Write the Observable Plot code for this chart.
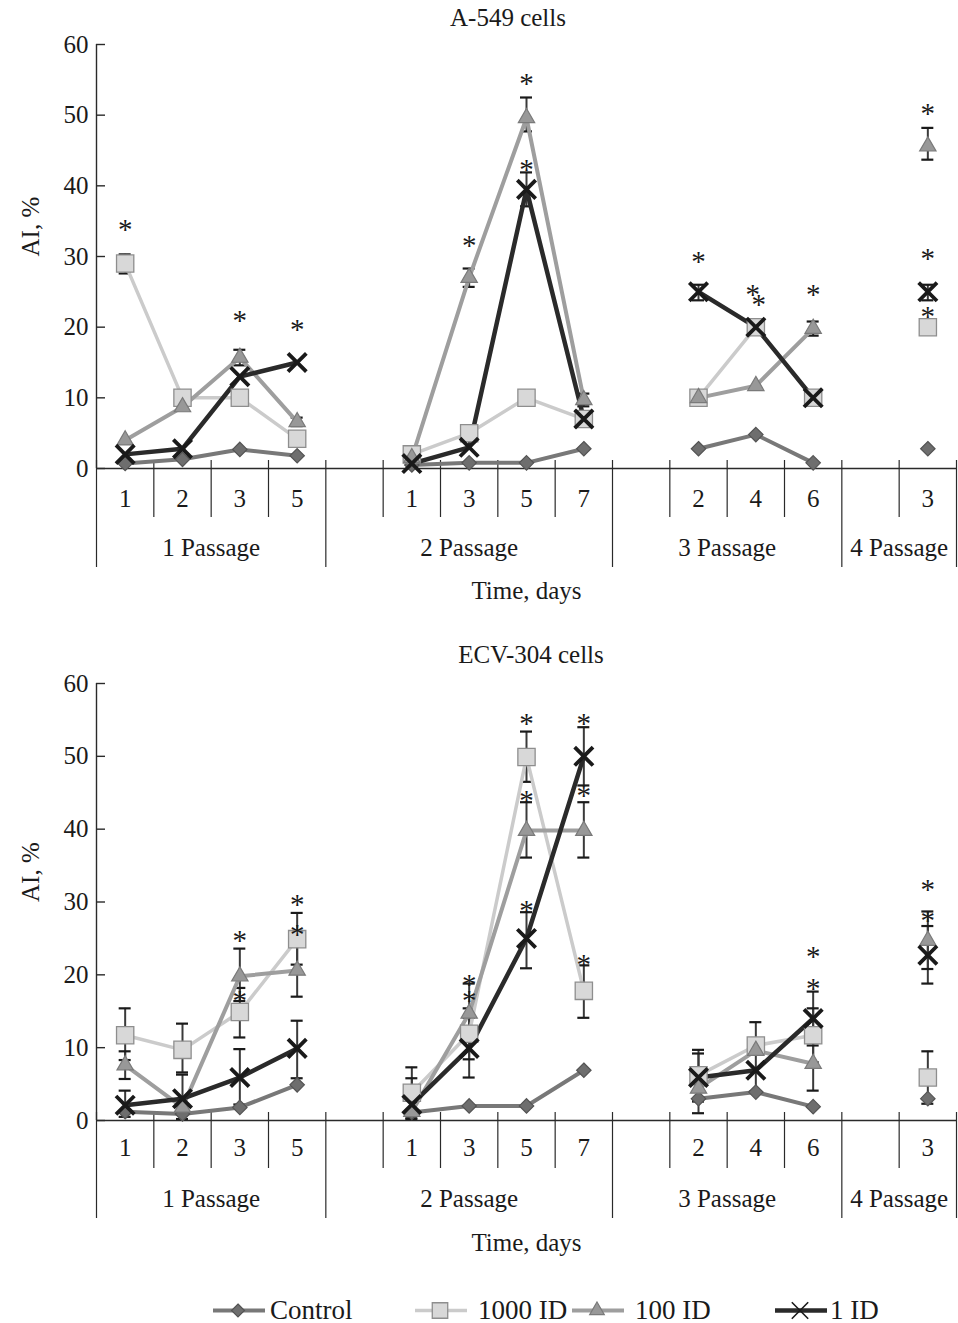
<!DOCTYPE html>
<html>
<head>
<meta charset="utf-8">
<script src="https://cdn.jsdelivr.net/npm/d3@7"></script>
<script src="https://cdn.jsdelivr.net/npm/@observablehq/plot@0.6"></script>
<style>
  html, body { margin: 0; padding: 0; background: #fff; }
  #page { position: relative; width: 958px; height: 1323px; overflow: hidden; font-family: "Liberation Serif", "DejaVu Serif", serif; color: #1a1a1a; }
  .abs { position: absolute; }
  .title { font-size: 25px; white-space: nowrap; transform: translate(-50%, -50%); }
  .leg { font-size: 27px; white-space: nowrap; display: flex; align-items: center; transform: translateY(-50%); }
</style>
</head>
<body>
<div id="page"></div>
<script>
// ---------------- data ----------------
const yTicks = [0, 10, 20, 30, 40, 50, 60];
const passages = ["1 Passage", "2 Passage", "3 Passage", "4 Passage"];
const passageDays = [[1, 2, 3, 5], [1, 3, 5, 7], [2, 4, 6], [3]];
const leadingGap = [0, 1, 1, 1];
const seriesNames = ["Control", "1000 ID", "100 ID", "1 ID"];

// A-549 cells: values per passage
const a549Control = [[0.7, 1.3, 2.7, 1.8], [0.5, 0.8, 0.8, 2.8], [2.8, 4.8, 0.8], [2.8]];
const a549Id1000  = [[29, 10, 10, 4.2], [2, 5, 10, 7], [10, 20, 10], [20]];
const a549Id100   = [[4, 8.7, 15.7, 6.6], [1.5, 27, 49.6, 9.7], [10, 11.7, 19.8], [45.6]];
const a549Id1     = [[2, 2.8, 13, 15], [0.7, 3, 39.5, 7], [25, 20, 10], [25]];
// error bars: [series, passage index, day, low, high]
const a549Errors = [
  ["1000 ID", 0, 1, 27.6, 30.3],
  ["100 ID", 0, 3, 14.6, 16.8],
  ["100 ID", 0, 5, 6.0, 7.2],
  ["100 ID", 1, 3, 25.7, 28.3],
  ["100 ID", 1, 5, 47.7, 52.5],
  ["1 ID", 1, 5, 37.1, 41.9],
  ["100 ID", 1, 7, 8.8, 10.6],
  ["1 ID", 2, 2, 23.8, 26.0],
  ["100 ID", 2, 6, 18.8, 20.8],
  ["100 ID", 3, 3, 43.7, 48.2],
  ["1 ID", 3, 3, 23.8, 26.0]
];
// significance marks: [passage index, day, value]
const a549Stars = [
  [0, 1, 34.8], [0, 3, 21.9], [0, 5, 20.6],
  [1, 3, 32.5], [1, 5, 55.4], [1, 5, 43.3],
  [2, 2, 30.3], [2, 4, 25.6], [2, 4, 24.2], [2, 6, 25.6],
  [3, 3, 51.2], [3, 3, 30.7], [3, 3, 22.5]
];

// ECV-304 cells
const ecvControl = [[1.2, 0.9, 1.8, 4.9], [1.1, 2, 2, 6.9], [3, 3.9, 1.9], [3]];
const ecvId1000  = [[11.7, 9.7, 14.9, 24.9], [3.8, 11.9, 49.9, 17.8], [6.2, 10.3, 11.7], [5.9]];
const ecvId100   = [[7.6, 1.8, 19.8, 20.6], [1.2, 14.7, 39.8, 39.8], [4.4, 9.6, 7.8], [24.7]];
const ecvId1     = [[2.1, 3, 5.9, 9.9], [2.2, 9.9, 25, 50], [5.9, 6.9, 14], [22.7]];
const ecvErrors = [
  ["1000 ID", 0, 1, 8.3, 15.4],
  ["100 ID", 0, 1, 5.7, 9.5],
  ["1 ID", 0, 1, 0.5, 4.1],
  ["1000 ID", 0, 2, 6.6, 13.3],
  ["1 ID", 0, 2, 0.2, 6.3],
  ["100 ID", 0, 3, 16.4, 23.6],
  ["1000 ID", 0, 3, 11.4, 18.2],
  ["1 ID", 0, 3, 2.2, 9.8],
  ["1000 ID", 0, 5, 21.4, 28.5],
  ["100 ID", 0, 5, 17.0, 24.0],
  ["1 ID", 0, 5, 5.8, 13.7],
  ["1000 ID", 1, 1, 0.3, 7.3],
  ["1 ID", 1, 1, 0.2, 5.8],
  ["100 ID", 1, 3, 10.8, 18.8],
  ["1000 ID", 1, 3, 8.4, 15.4],
  ["1 ID", 1, 3, 5.9, 14.1],
  ["1000 ID", 1, 5, 46.5, 53.4],
  ["100 ID", 1, 5, 36.1, 43.7],
  ["1 ID", 1, 5, 20.9, 28.6],
  ["1 ID", 1, 7, 46.0, 54.0],
  ["100 ID", 1, 7, 36.1, 43.7],
  ["1000 ID", 1, 7, 14.1, 21.3],
  ["1000 ID", 2, 2, 2.7, 9.7],
  ["1 ID", 2, 2, 2.6, 9.2],
  ["Control", 2, 2, 1.0, 5.0],
  ["1 ID", 2, 4, 4.0, 13.5],
  ["1 ID", 2, 6, 10.3, 17.7],
  ["1000 ID", 2, 6, 8.0, 15.4],
  ["100 ID", 2, 6, 4.1, 11.5],
  ["100 ID", 3, 3, 20.8, 28.7],
  ["1 ID", 3, 3, 18.8, 26.7],
  ["1000 ID", 3, 3, 2.3, 9.5]
];
const ecvStars = [
  [0, 3, 25.7], [0, 3, 17.4], [0, 5, 30.6], [0, 5, 26.5],
  [1, 3, 19.6], [1, 3, 17.4],
  [1, 5, 55.4], [1, 5, 44.9], [1, 5, 29.8],
  [1, 7, 55.4], [1, 7, 45.6], [1, 7, 22.4],
  [2, 6, 23.5], [2, 6, 19.0],
  [3, 3, 32.6], [3, 3, 28.4]
];

// ---------------- styles ----------------
const seriesStyle = {
  "Control": {symbol: "diamond2", r: 6.5, fill: "#6e6e6e", stroke: "#545454", sw: 1.2, line: "#787878", lw: 4},
  "1000 ID": {symbol: "square2", r: 11, fill: "#d8d8d8", stroke: "#8e8e8e", sw: 1.3, line: "#cbcbcb", lw: 3.5},
  "100 ID":  {symbol: "triangle2", r: 7.8, fill: "#989898", stroke: "#7a7a7a", sw: 1.2, line: "#9e9e9e", lw: 4},
  "1 ID":    {symbol: "times", r: 8.4, fill: "none", stroke: "#1a1a1a", sw: 3.8, line: "#2a2a2a", lw: 4.5}
};
const symbolFns = {"diamond2": d3.symbolDiamond2, "square2": d3.symbolSquare2, "triangle2": d3.symbolTriangle2, "times": d3.symbolTimes};

// ---------------- structure ----------------
const slotCounts = passageDays.map((d, p) => d.length + leadingGap[p]);
const slotStart = [0];
slotCounts.forEach((c, i) => slotStart.push(slotStart[i] + c));
const totalSlots = slotStart[slotStart.length - 1];
const center = (p, day) => slotStart[p] + leadingGap[p] + passageDays[p].indexOf(day) + 0.5;

const passageBounds = slotStart.slice();
const shortBounds = [];
for (let s = 1; s < totalSlots; s++) if (!passageBounds.includes(s)) shortBounds.push(s);
const dayTicks = [];
passageDays.forEach((days, p) => days.forEach(day => dayTicks.push({x: center(p, day), label: String(day)})));
const passageTicks = passages.map((name, p) => ({x: (slotStart[p] + slotStart[p + 1]) / 2, label: name}));

function rowsFor(valuesBySeries) {
  const rows = [];
  seriesNames.forEach((s, k) => {
    valuesBySeries[k].forEach((vals, p) => vals.forEach((v, j) => {
      rows.push({series: s, passage: p, x: center(p, passageDays[p][j]), y: v});
    }));
  });
  return rows;
}

function chart({values, errors, stars, height, marginTop, plotHeight, dayDy, passDy, shortLen, longLen, labelDy}) {
  const rows = rowsFor(values);
  const errRows = errors.map(([s, p, d, lo, hi]) => ({series: s, x: center(p, d), lo, hi}));
  const caps = errRows.flatMap(e => [{x: e.x, y: e.lo}, {x: e.x, y: e.hi}]);
  const starRows = stars.map(([p, d, v]) => ({x: center(p, d), y: v, side: 0}));
  // nudge near-coincident asterisks apart sideways
  starRows.forEach(a => starRows.forEach(b => {
    if (a !== b && a.x === b.x && Math.abs(a.y - b.y) < 2) a.side = a.y > b.y ? -1 : 1;
  }));
  const marks = [];
  // axis lines
  marks.push(Plot.ruleY([0], {y: d => d, stroke: "#2a2a2a", strokeWidth: 1.4}));
  marks.push(Plot.ruleX([0], {x: d => d, y1: () => 60, y2: () => 0, stroke: "#2a2a2a", strokeWidth: 1.4}));
  marks.push(Plot.ruleY(yTicks, {y: d => d, x1: () => 0, x2: () => 0, insetLeft: 0, insetRight: -9, stroke: "#2a2a2a", strokeWidth: 1.4}));
  marks.push(Plot.text(yTicks, {y: d => d, frameAnchor: "left", dx: -8, textAnchor: "end", text: d => String(d), fontSize: 25}));
  marks.push(Plot.ruleX(shortBounds, {x: d => d, y1: () => 0, y2: () => 0, insetTop: -8, insetBottom: -shortLen, stroke: "#2a2a2a", strokeWidth: 1.2}));
  marks.push(Plot.ruleX(passageBounds, {x: d => d, y1: () => 0, y2: () => 0, insetTop: -8, insetBottom: -longLen, stroke: "#2a2a2a", strokeWidth: 1.2}));
  marks.push(Plot.text(dayTicks, {x: "x", y: () => 0, dy: dayDy, text: "label", fontSize: 25}));
  marks.push(Plot.text(passageTicks, {x: "x", y: () => 0, dy: passDy, text: "label", fontSize: 25}));
  marks.push(Plot.text(["Time, days"], {frameAnchor: "bottom", lineAnchor: "middle", dy: labelDy, fontSize: 25}));
  marks.push(Plot.text(["AI, %"], {frameAnchor: "left", dx: -66, rotate: -90, fontSize: 25}));
  // error bars
  marks.push(Plot.ruleX(errRows, {x: "x", y1: "hi", y2: "lo", stroke: "#3a3a3a", strokeWidth: 2}));
  marks.push(Plot.ruleY(caps, {y: "y", x1: "x", x2: "x", insetLeft: -6, insetRight: -6, stroke: "#1a1a1a", strokeWidth: 2.2}));
  // lines
  seriesNames.forEach(s => {
    const st = seriesStyle[s];
    marks.push(Plot.line(rows.filter(r => r.series === s), {x: "x", y: "y", z: "passage", stroke: st.line, strokeWidth: st.lw, strokeLinejoin: "round"}));
  });
  // markers
  seriesNames.forEach(s => {
    const st = seriesStyle[s];
    marks.push(Plot.dot(rows.filter(r => r.series === s), {x: "x", y: "y", symbol: st.symbol, r: st.r, fill: st.fill, stroke: st.stroke, strokeWidth: st.sw}));
  });
  // significance asterisks
  [-1, 0, 1].forEach(side => {
    marks.push(Plot.text(starRows.filter(a => a.side === side), {x: "x", y: "y", text: () => "*", fontSize: 29, dy: 7, dx: side * 3}));
  });
  return Plot.plot({
    width: 958, height, marginTop, marginBottom: height - marginTop - plotHeight, marginLeft: 96, marginRight: 2,
    x: {domain: [0, totalSlots], axis: null},
    y: {domain: [0, 60], axis: null},
    style: {fontFamily: "Liberation Serif", fontSize: "25px", color: "#1a1a1a", background: "transparent", overflow: "visible"},
    marks
  });
}

const page = document.getElementById("page");
function place(el, left, top) { el.classList.add("abs"); el.style.left = left + "px"; el.style.top = top + "px"; page.appendChild(el); return el; }
function div(text, cls) { const d = document.createElement("div"); d.className = cls; d.textContent = text; return d; }

place(chart({values: [a549Control, a549Id1000, a549Id100, a549Id1], errors: a549Errors, stars: a549Stars,
  height: 610, marginTop: 44, plotHeight: 424, dayDy: 30, passDy: 79, shortLen: 49, longLen: 99, labelDy: 122}), 0, 0);
place(chart({values: [ecvControl, ecvId1000, ecvId100, ecvId1], errors: ecvErrors, stars: ecvStars,
  height: 620, marginTop: 43, plotHeight: 437, dayDy: 27, passDy: 78, shortLen: 48, longLen: 98, labelDy: 122}), 0, 640);

place(div("A-549 cells", "title"), 508, 18);
place(div("ECV-304 cells", "title"), 531, 655);

// legend
const legendLeft = {"Control": 211, "1000 ID": 413, "100 ID": 570, "1 ID": 773};
seriesNames.forEach(s => {
  const st = seriesStyle[s];
  const item = document.createElement("div");
  item.className = "leg";
  const svg = d3.create("svg").attr("width", 56).attr("height", 30)
    .style("margin-right", s === "1 ID" ? "1px" : (s === "Control" ? "3px" : "9px"));
  svg.append("line").attr("x1", 2).attr("x2", 54).attr("y1", 15).attr("y2", 15).attr("stroke", st.line).attr("stroke-width", st.lw);
  svg.append("path").attr("transform", "translate(27,15)")
    .attr("d", d3.symbol(symbolFns[st.symbol], Math.PI * st.r * st.r * 0.8)())
    .attr("fill", st.fill).attr("stroke", st.stroke).attr("stroke-width", st.symbol === "times" ? 1.6 : st.sw);
  item.appendChild(svg.node());
  const t = document.createElement("span"); t.textContent = s; item.appendChild(t);
  place(item, legendLeft[s], 1310);
});
</script>
</body>
</html>
